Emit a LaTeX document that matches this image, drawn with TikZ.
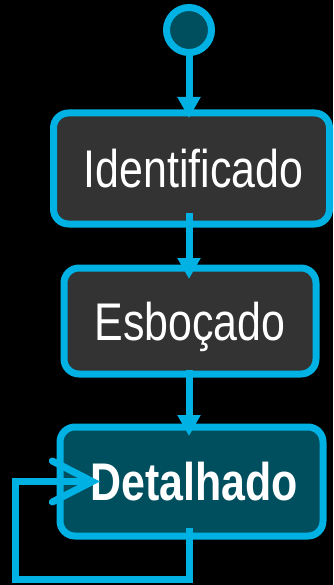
\documentclass[tikz,border=0pt]{standalone}
\usepackage{fontspec}
\setmainfont{Liberation Sans}[FakeStretch=0.81]
\usetikzlibrary{arrows.meta,positioning}
\definecolor{umlcyan}{HTML}{00B2E3}
\definecolor{umlteal}{HTML}{004F5F}
\definecolor{umlgray}{HTML}{333333}

\begin{document}
\begin{tikzpicture}[x=1pt, y=-1pt, line width=7pt,
	state/.style={draw=umlcyan, fill=umlgray, rounded corners=15pt, text=white, inner sep=0pt, outer sep=0pt,
		font=\fontsize{53}{60}\selectfont, text height=38pt, text depth=0pt},
	flow/.style={draw=umlcyan, -{Triangle[length=21pt, width=22pt]}}]
	\fill[black] (0,0) rectangle (333,585);
	\useasboundingbox (0,0) rectangle (333,585);
	% start and states
	\node[circle, draw=umlcyan, fill=umlteal, minimum size=45pt, inner sep=0pt, outer sep=0pt] (start) at (189,30) {};
	\node[state, minimum width=276pt, minimum height=111pt] (ident) at (191.5,168.5) {\kern4pt Identificado};
	\node[state, minimum width=252pt, minimum height=106pt] (esbo) at (190,321) {Esboçado};
	\node[state, fill=umlteal, minimum width=263pt, minimum height=109pt, font=\fontsize{53}{60}\selectfont\bfseries] (det) at (191.5,481.5) {\kern5pt Detalhado};
	% transitions
	\draw[flow, shorten >=-5pt] (start.south) -- (start.south |- ident.north);
	\draw[flow, shorten <=-11pt, shorten >=-11pt] (start |- ident.south) -- (start |- esbo.north);
	\draw[flow, shorten <=-4pt, shorten >=-9pt] (start |- esbo.south) -- (start |- det.north);
	% self loop
	\coordinate (loopcorner) at (15,579);
	\coordinate (looptip) at ([xshift=40pt]det.west);
	\draw[umlcyan, -{Straight Barb[length=40pt, width=41pt, line cap=round]}, shorten <=-8pt]
		(start |- det.south) |- (loopcorner) |- (looptip);
\end{tikzpicture}
\end{document}
